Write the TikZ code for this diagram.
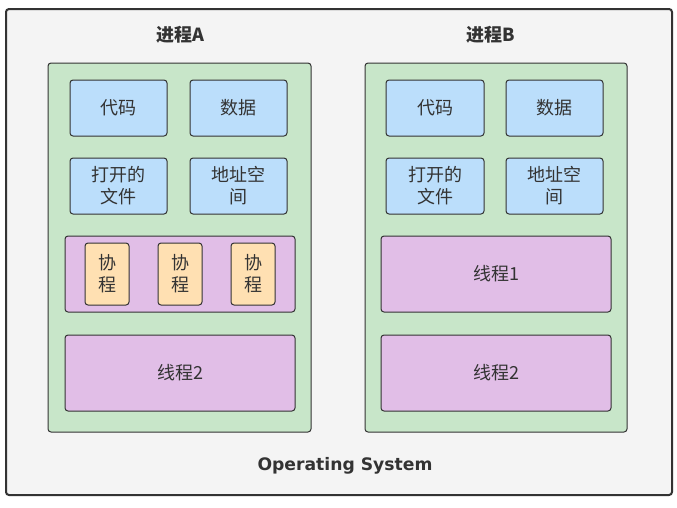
\documentclass[tikz,border=0pt]{standalone}
\usepackage{fontspec}
\setmainfont{Noto Sans CJK SC}
\newfontfamily\osfont{DejaVu Sans}
\definecolor{bgfill}{HTML}{F4F4F4}
\definecolor{edge}{HTML}{333333}
\definecolor{grn}{HTML}{C8E6C9}
\definecolor{blu}{HTML}{BBDEFB}
\definecolor{pur}{HTML}{E1BEE7}
\definecolor{org}{HTML}{FFE0B2}
\definecolor{txt}{HTML}{333333}
\tikzset{
  box/.style={draw=edge, line width=1pt, rounded corners=3pt, inner sep=0pt, outer sep=0pt},
  proc/.style={box, fill=grn},
  res/.style={box, fill=blu, align=center, font=\fontsize{18}{22}\selectfont, text=txt},
  thr/.style={box, fill=pur, font=\fontsize{18}{22}\selectfont, text=txt},
  cor/.style={box, fill=org, align=center, font=\fontsize{18}{22}\selectfont, text=txt},
  ttl/.style={font=\fontsize{18}{22}\selectfont\bfseries, text=txt}
}
\begin{document}
\begin{tikzpicture}[x=1pt,y=-1pt]
\useasboundingbox (0,0) rectangle (677,507);
\node[box, line width=2pt, fill=bgfill, minimum width=666pt, minimum height=486pt, anchor=north west] (os) at (6,9) {};
\node[font=\osfont\fontsize{17.2}{20}\selectfont\bfseries, text=txt] (oslabel) at (345,466) {Operating System};
% Process A
\node[ttl] (ta) at (180,35) {进程A};
\node[proc, minimum width=263pt, minimum height=369pt, anchor=north west] (pa) at (48,63) {};
\node[res, minimum width=97pt, minimum height=56pt, anchor=north west] (a1) at (70,80) {代码};
\node[res, minimum width=97pt, minimum height=56pt, anchor=north west] (a2) at (190,80) {数据};
\node[res, minimum width=97pt, minimum height=56pt, anchor=north west] (a3) at (70,158) {打开的\\文件};
\node[res, minimum width=97pt, minimum height=56pt, anchor=north west] (a4) at (190,158) {地址空\\间};
\node[thr, minimum width=230pt, minimum height=76pt, anchor=north west] (at1) at (65,236) {};
\node[cor, minimum width=44pt, minimum height=62pt, anchor=north west] (c1) at (85,243) {协\\程};
\node[cor, minimum width=44pt, minimum height=62pt, anchor=north west] (c2) at (158,243) {协\\程};
\node[cor, minimum width=44pt, minimum height=62pt, anchor=north west] (c3) at (231,243) {协\\程};
\node[thr, minimum width=230pt, minimum height=76pt, anchor=north west] (at2) at (65,335) {线程2};
% Process B
\node[ttl] (tb) at (491,35) {进程B};
\node[proc, minimum width=262pt, minimum height=369pt, anchor=north west] (pb) at (365,63) {};
\node[res, minimum width=98pt, minimum height=56pt, anchor=north west] (b1) at (386,80) {代码};
\node[res, minimum width=97pt, minimum height=56pt, anchor=north west] (b2) at (506,80) {数据};
\node[res, minimum width=98pt, minimum height=56pt, anchor=north west] (b3) at (386,158) {打开的\\文件};
\node[res, minimum width=97pt, minimum height=56pt, anchor=north west] (b4) at (506,158) {地址空\\间};
\node[thr, minimum width=230pt, minimum height=76pt, anchor=north west] (bt1) at (381,236) {线程1};
\node[thr, minimum width=230pt, minimum height=76pt, anchor=north west] (bt2) at (381,335) {线程2};
\end{tikzpicture}
\end{document}
